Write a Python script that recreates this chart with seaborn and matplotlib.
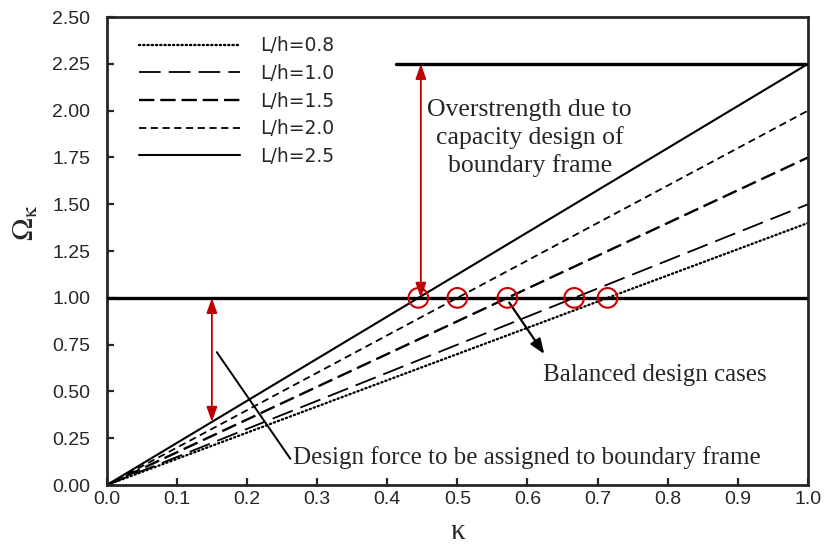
import numpy as np
import pandas as pd
import matplotlib
matplotlib.use("Agg")
import matplotlib.pyplot as plt
import seaborn as sns

# Aspect ratios and the Omega value each line reaches at kappa = 1
ratios = ["L/h=0.8", "L/h=1.0", "L/h=1.5", "L/h=2.0", "L/h=2.5"]
omega_at_one = [1.40, 1.50, 1.75, 2.00, 2.25]
kappa_ends = [0.0, 1.0]

x_ticks = [0.0, 0.1, 0.2, 0.3, 0.4, 0.5, 0.6, 0.7, 0.8, 0.9, 1.0]
y_ticks = [0.00, 0.25, 0.50, 0.75, 1.00, 1.25, 1.50, 1.75, 2.00, 2.25, 2.50]

rows = []
for r, w in zip(ratios, omega_at_one):
    for k in kappa_ends:
        rows.append({"kappa": k, "omega": w * k, "ratio": r})
df = pd.DataFrame(rows)

sns.set_style("ticks")
plt.rcParams["font.family"] = ["Liberation Sans", "DejaVu Sans"]
plt.rcParams["mathtext.fontset"] = "stix"

fig = plt.figure(figsize=(8.27, 5.5), dpi=100)
ax = fig.add_axes([0.129, 0.118, 0.848, 0.851])

styles = {
    "L/h=0.8": dict(lw=1.7, dashes=(0.5, 1.3), cap="round"),
    "L/h=1.0": dict(lw=1.3, dashes=(12, 4.5)),
    "L/h=1.5": dict(lw=1.7, dashes=(6.5, 2.5)),
    "L/h=2.0": dict(lw=1.3, dashes=(4, 2.5)),
    "L/h=2.5": dict(lw=1.5, dashes=None),
}

sns.lineplot(data=df, x="kappa", y="omega", hue="ratio", hue_order=ratios,
             palette=["black"] * 5, ax=ax, legend=False, estimator=None)

for line, r in zip(ax.get_lines(), ratios):
    st = styles[r]
    line.set_linewidth(st["lw"])
    if st["dashes"] is not None:
        line.set_dashes(st["dashes"])
    if st.get("cap"):
        line.set_dash_capstyle(st["cap"])
    line.set_label(r)

# Reference levels
ax.plot([0, 1], [1.0, 1.0], color="black", lw=2.4, zorder=3)
ax.plot([0.412, 1.0], [2.25, 2.25], color="black", lw=2.4, zorder=3)

# Balanced design points where each line reaches Omega = 1
balanced_x = [1.0 / w for w in omega_at_one]
ax.scatter(balanced_x, [1.0] * len(balanced_x), s=200, facecolors="none",
           edgecolors="#cc0000", linewidths=1.5, zorder=5)

red = "#c00000"
ax.annotate("", xy=(0.448, 2.25), xytext=(0.448, 1.0),
            arrowprops=dict(arrowstyle="<|-|>,head_length=0.9,head_width=0.32",
                            color=red, lw=1.3, shrinkA=0, shrinkB=0))
ax.annotate("", xy=(0.15, 1.0), xytext=(0.15, 2.25 * 0.15),
            arrowprops=dict(arrowstyle="<|-|>,head_length=0.9,head_width=0.32",
                            color=red, lw=1.3, shrinkA=0, shrinkB=0))

serif = ["Liberation Serif", "DejaVu Serif"]
ax.text(0.603, 1.855, "Overstrength due to\ncapacity design of\nboundary frame",
        ha="center", va="center", fontsize=18.5, family=serif, linespacing=1.28)

ax.plot([0.157, 0.262], [0.71, 0.14], color="black", lw=1.4)
ax.text(0.266, 0.145, "Design force to be assigned to boundary frame",
        ha="left", va="center", fontsize=18, family=serif)

ax.annotate("", xy=(0.624, 0.70), xytext=(0.574, 0.975),
            arrowprops=dict(arrowstyle="-|>,head_length=0.9,head_width=0.35",
                            color="black", lw=1.6, shrinkA=0, shrinkB=0))
ax.text(0.622, 0.59, "Balanced design cases", ha="left", va="center",
        fontsize=18, family=serif)

ax.set_xlim(0, 1)
ax.set_ylim(0, 2.5)
ax.set_xticks(x_ticks)
ax.set_yticks(y_ticks)
ax.set_xticklabels([f"{v:.1f}" for v in x_ticks], fontsize=14)
ax.set_yticklabels([f"{v:.2f}" for v in y_ticks], fontsize=14)
ax.tick_params(direction="in", length=5, width=1.6)
ax.tick_params(axis="x", pad=4)
ax.tick_params(axis="y", pad=12)
for s in ax.spines.values():
    s.set_linewidth(2.0)
    s.set_visible(True)

ax.set_xlabel("κ", fontsize=21, family=serif, labelpad=8)
ax.set_ylabel(r"$\Omega_{\mathrm{\kappa}}$", fontsize=22)
ax.yaxis.set_label_coords(-0.094, 0.56)

leg = ax.legend(loc="upper left", frameon=False,
                prop={"family": "DejaVu Sans", "size": 13.5},
                handlelength=5.4, handletextpad=1.1, labelspacing=0.46,
                borderaxespad=0.0, bbox_to_anchor=(0.035, 0.975))

fig.savefig("out.png", dpi=100)
